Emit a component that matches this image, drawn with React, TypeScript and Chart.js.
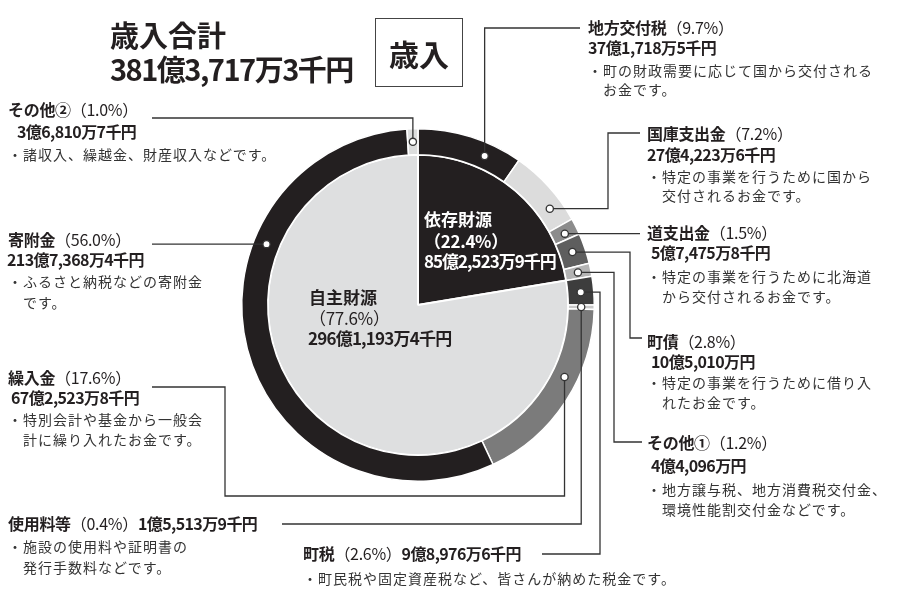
import React, { useEffect, useRef } from "react";
import { Chart, registerables } from "chart.js";

Chart.register(...registerables);

const FONT = '"Noto Sans CJK JP", "Noto Sans", sans-serif';

// ---- data ----
const titleLines = ["歳入合計", "381億3,717万3千円"];
const boxLabel = "歳入";

const innerLabels = ["依存財源", "自主財源"];
const innerValues = [22.4, 77.6];
const innerAmounts = ["85億2,523万9千円", "296億1,193万4千円"];
const innerColors = ["#231f20", "#dedfe0"];

const ringLabels = ["地方交付税", "国庫支出金", "道支出金", "町債", "その他①", "町税", "使用料等", "繰入金", "寄附金", "その他②"];
const ringValues = [9.7, 7.2, 1.5, 2.8, 1.2, 2.6, 0.4, 17.6, 56.0, 1.0];
const ringAmounts = [
  "37億1,718万5千円",
  "27億4,223万6千円",
  "5億7,475万8千円",
  "10億5,010万円",
  "4億4,096万円",
  "9億8,976万6千円",
  "1億5,513万9千円",
  "67億2,523万8千円",
  "213億7,368万4千円",
  "3億6,810万7千円",
];
const ringNotes = [
  ["・町の財政需要に応じて国から交付される", "お金です。"],
  ["・特定の事業を行うために国から", "交付されるお金です。"],
  ["・特定の事業を行うために北海道", "から交付されるお金です。"],
  ["・特定の事業を行うために借り入", "れたお金です。"],
  ["・地方譲与税、地方消費税交付金、", "環境性能割交付金などです。"],
  ["・町民税や固定資産税など、皆さんが納めた税金です。"],
  ["・施設の使用料や証明書の", "発行手数料などです。"],
  ["・特別会計や基金から一般会", "計に繰り入れたお金です。"],
  ["・ふるさと納税などの寄附金", "です。"],
  ["・諸収入、繰越金、財産収入などです。"],
];
const ringColors = ["#231f20", "#dcdcdc", "#8c8c8c", "#5e5e5e", "#b4b4b4", "#3d3d3d", "#c9c9c9", "#7b7b7b", "#231f20", "#dcdddd"];

// ---- layout (styling only) ----
type Block = { x: number; y: number; ax: number; ay: number | null; ny: number[] };
const blocks: Block[] = [
  { x: 588, y: 28, ax: 588, ay: 48, ny: [71, 90] },
  { x: 647, y: 134, ax: 647, ay: 155, ny: [177, 196] },
  { x: 647, y: 233, ax: 651, ay: 253, ny: [277, 297] },
  { x: 647, y: 342, ax: 651, ay: 362, ny: [383, 403] },
  { x: 647, y: 443, ax: 651, ay: 466, ny: [490, 510] },
  { x: 303, y: 554, ax: 0, ay: null, ny: [579] },
  { x: 8, y: 524, ax: 0, ay: null, ny: [547, 568] },
  { x: 8, y: 378, ax: 11, ay: 398, ny: [420, 440] },
  { x: 8, y: 240, ax: 7, ay: 260, ny: [282, 303] },
  { x: 8, y: 110, ax: 17, ay: 132, ny: [155] },
];
const dotFrac = [0.69, 0.73, 0.6, 0.48, 0.5, 0.52, 0.5, 0.39, 0.68, 0.5];
const routes: ((x: number, y: number) => [number, number][])[] = [
  (x, y) => [[x, 28], [580, 28]],
  (x, y) => [[608, y], [608, 133], [640, 133]],
  (x, y) => [[640, y]],
  (x, y) => [[630, y], [630, 338], [642, 338]],
  (x, y) => [[614, y], [614, 442], [642, 442]],
  (x, y) => [[600, y], [600, 554], [542, 554]],
  (x, y) => [[x, 524], [282, 524]],
  (x, y) => [[x, 496], [225, 496], [225, 387], [152, 387]],
  (x, y) => [[152, y]],
  (x, y) => [[x, 118], [152, 118]],
];

const connectorPlugin = {
  id: "connectors",
  afterDatasetsDraw(chart: any) {
    const meta = chart.getDatasetMeta(0);
    const ctx = chart.ctx as CanvasRenderingContext2D;
    meta.data.forEach((arc: any, i: number) => {
      const p = arc.getProps(["x", "y", "startAngle", "endAngle", "innerRadius", "outerRadius"], true);
      const a = p.startAngle + dotFrac[i] * (p.endAngle - p.startAngle);
      const r = (p.innerRadius + p.outerRadius) / 2;
      const dx = p.x + r * Math.cos(a);
      const dy = p.y + r * Math.sin(a);
      const pts = routes[i](dx, dy);
      ctx.save();
      ctx.strokeStyle = "#333333";
      ctx.lineWidth = 1.3;
      ctx.beginPath();
      ctx.moveTo(dx, dy);
      pts.forEach(([px, py]) => ctx.lineTo(px, py));
      ctx.stroke();
      ctx.beginPath();
      ctx.arc(dx, dy, 3.6, 0, Math.PI * 2);
      ctx.fillStyle = "#ffffff";
      ctx.fill();
      ctx.stroke();
      ctx.restore();
    });
  },
};

const pct = (v: number) => `（${v.toFixed(1)}%）`;

function Txt(props: { x: number; y: number; size: number; bold?: boolean; color?: string; ls?: number; children: React.ReactNode }) {
  const lh = Math.round(props.size * 1.3);
  return (
    <div
      style={{
        position: "absolute",
        left: props.x,
        top: props.y - lh / 2 - 1,
        fontFamily: FONT,
        fontSize: props.size,
        lineHeight: `${lh}px`,
        fontWeight: props.bold ? 700 : 400,
        color: props.color || "#231f20",
        letterSpacing: props.ls ?? 0,
        whiteSpace: "nowrap",
      }}
    >
      {props.children}
    </div>
  );
}

export default function App() {
  const ref = useRef<HTMLCanvasElement | null>(null);
  useEffect(() => {
    if (!ref.current) return;
    const chart = new Chart(ref.current, {
      type: "doughnut",
      data: {
        labels: ringLabels,
        datasets: [
          {
            data: ringValues,
            backgroundColor: ringColors,
            borderColor: "#ffffff",
            borderWidth: 1.5,
            weight: 26,
            hoverOffset: 0,
          } as any,
          {
            data: innerValues,
            backgroundColor: innerColors,
            borderColor: "#ffffff",
            borderWidth: 2,
            weight: 150,
            hoverOffset: 0,
          } as any,
        ],
      },
      options: {
        responsive: false,
        animation: false,
        cutout: 0,
        events: [],
        layout: { padding: { left: 241, right: 305, top: 128, bottom: 118 } },
        plugins: { legend: { display: false }, tooltip: { enabled: false }, title: { display: false } },
      } as any,
      plugins: [connectorPlugin],
    });
    return () => chart.destroy();
  }, []);

  return (
    <div style={{ position: "fixed", left: 0, top: 0, width: 900, height: 600, background: "#fff", overflow: "hidden" }}>
      <canvas ref={ref} width={900} height={600} style={{ position: "absolute", left: 0, top: 0, width: 900, height: 600 }} />
      <Txt x={110} y={35} size={29} bold>{titleLines[0]}</Txt>
      <Txt x={110} y={69} size={29} bold ls={-1.5}>{titleLines[1]}</Txt>
      <div
        style={{
          position: "absolute",
          left: 375,
          top: 18,
          width: 86,
          height: 67,
          border: "1.5px solid #444",
          display: "flex",
          alignItems: "center",
          justifyContent: "center",
          fontFamily: FONT,
          fontWeight: 700,
          fontSize: 30,
          color: "#231f20",
        }}
      >
        {boxLabel}
      </div>

      {/* inner labels */}
      <Txt x={424} y={220} size={17} bold color="#ffffff">{innerLabels[0]}</Txt>
      <Txt x={424} y={242} size={17} bold color="#ffffff" ls={-0.3}>{pct(innerValues[0])}</Txt>
      <Txt x={424} y={262} size={17} bold color="#ffffff" ls={-1}>{innerAmounts[0]}</Txt>
      <Txt x={309} y={298} size={17} bold>{innerLabels[1]}</Txt>
      <Txt x={309} y={319} size={17} ls={-0.3}>{pct(innerValues[1])}</Txt>
      <Txt x={308} y={339} size={17} bold ls={-0.8}>{innerAmounts[1]}</Txt>

      {ringLabels.map((lab, i) => {
        const b = blocks[i];
        return (
          <React.Fragment key={lab}>
            <Txt x={b.x} y={b.y} size={16} bold ls={-0.3}>
              {lab}
              <span style={{ fontWeight: 400 }}>{pct(ringValues[i])}</span>
              {b.ay === null ? <span style={{ letterSpacing: -0.6 }}>{ringAmounts[i]}</span> : null}
            </Txt>
            {b.ay !== null ? (
              <Txt x={b.ax} y={b.ay} size={16} bold ls={-0.6}>{ringAmounts[i]}</Txt>
            ) : null}
            {ringNotes[i].map((line, j) => (
              <Txt key={j} x={j === 0 ? b.x : b.x + 15} y={b.ny[j]} size={14} ls={1} color="#333333">
                {line}
              </Txt>
            ))}
          </React.Fragment>
        );
      })}
    </div>
  );
}
